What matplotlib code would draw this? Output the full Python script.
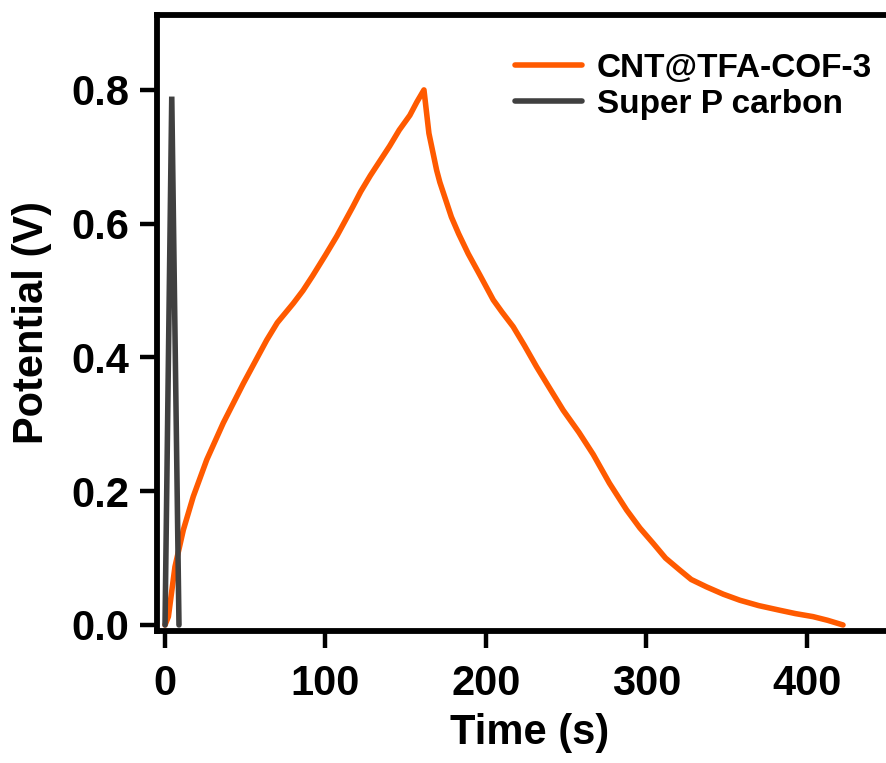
import numpy as np
import matplotlib
matplotlib.use('Agg')
import matplotlib.pyplot as plt

plt.rcParams['font.family'] = ['Liberation Sans', 'DejaVu Sans']
plt.rcParams['font.weight'] = 'bold'

# CNT@TFA-COF-3 charge/discharge curve
cof_time = [0, 2.1, 6.2, 11.4, 17.6, 26, 36.3, 48.8, 63.4, 70, 80, 86, 92, 100, 107,
            112, 117, 122, 128, 134, 140, 146, 152.6, 157, 161.4,
            164.5, 169.3, 171.3, 178.5, 183, 189, 196.3, 204.6, 210, 217, 224, 231.6,
            240, 248.2, 258, 266.9, 277, 287.7, 296, 304.3, 312, 320.9, 328, 337.5,
            348, 358.3, 370, 383.2, 393, 403.9, 413, 422.6]
cof_volt = [0.0, 0.0125, 0.087, 0.142, 0.192, 0.247, 0.302, 0.361, 0.426, 0.452,
            0.481, 0.500, 0.522, 0.553, 0.581, 0.603, 0.625, 0.648, 0.672, 0.694,
            0.716, 0.740, 0.762, 0.782, 0.800,
            0.735, 0.680, 0.662, 0.610, 0.585, 0.555, 0.523, 0.486, 0.468, 0.446,
            0.418, 0.386, 0.353, 0.321, 0.288, 0.255, 0.212, 0.172, 0.145, 0.122,
            0.100, 0.082, 0.068, 0.057, 0.046, 0.037, 0.029, 0.022, 0.017, 0.0125,
            0.007, 0.0]

# Super P carbon
sp_time = [0, 4.2, 8.7]
sp_volt = [0.0, 0.79, 0.0]

W, H = 887, 763
fig = plt.figure(figsize=(W / 100, H / 100), dpi=100)
ax = fig.add_axes([157 / W, (H - 631) / H, (903 - 157) / W, (631 - 15) / H])

ax.plot(cof_time, cof_volt, color='#ff5a00', lw=4, label='CNT@TFA-COF-3',
        solid_capstyle='round', solid_joinstyle='round')
ax.plot(sp_time, sp_volt, color='#404040', lw=4, label='Super P carbon',
        solid_capstyle='round', solid_joinstyle='miter')

ax.set_xlim(-5, 460)
ax.set_ylim(-0.009, 0.912)
ax.set_xticks([0, 100, 200, 300, 400])
ax.set_yticks([0.0, 0.2, 0.4, 0.6, 0.8])
ax.yaxis.set_major_formatter(matplotlib.ticker.FormatStrFormatter('%.1f'))

for s in ax.spines.values():
    s.set_linewidth(4.2)
ax.tick_params(direction='out', length=12, width=3.2, labelsize=30, pad=8)
ax.tick_params(axis='x', pad=12)

ax.set_xlabel('Time (s)', fontsize=30, fontweight='bold', labelpad=6)
ax.set_ylabel('Potential (V)', fontsize=30, fontweight='bold', labelpad=14)

fig.legend(loc='upper left', bbox_to_anchor=(515 / W, 1 - 53 / H), frameon=False,
           fontsize=24, handlelength=2.0, handletextpad=0.45, labelspacing=0.15,
           borderpad=0, borderaxespad=0)

fig.savefig('out.png', dpi=100)
